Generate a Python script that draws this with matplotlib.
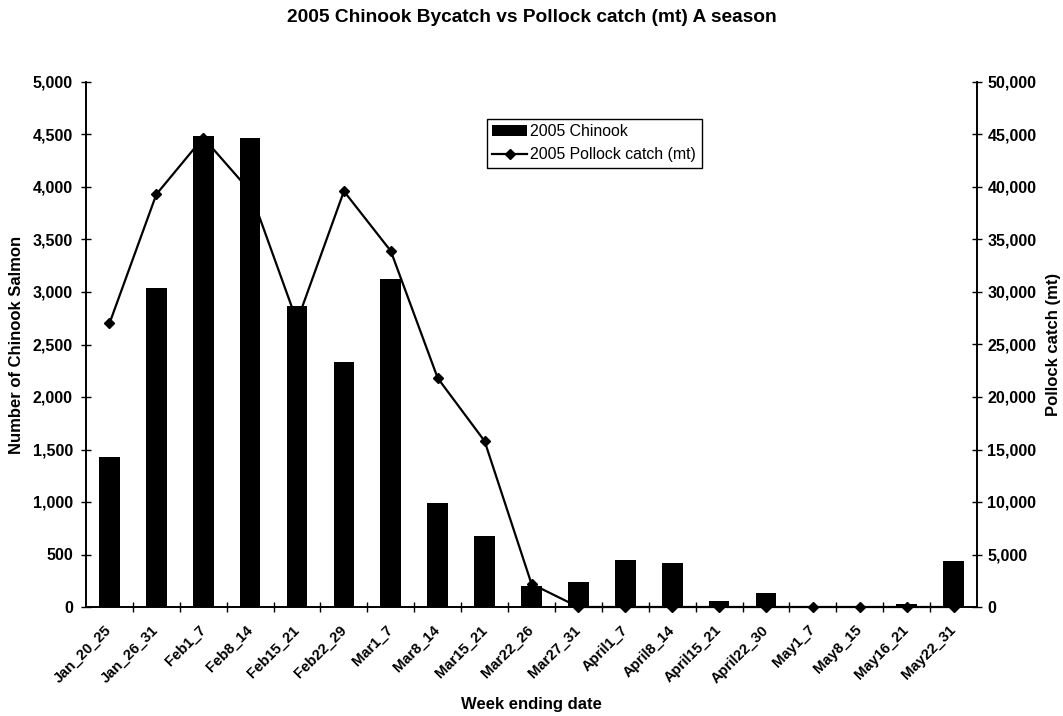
import numpy as np
import matplotlib
matplotlib.use('Agg')
import matplotlib.pyplot as plt
from matplotlib.ticker import FuncFormatter, FixedLocator

plt.rcParams['font.family'] = ['Liberation Sans', 'DejaVu Sans']

weeks = ['Jan_20_25', 'Jan_26_31', 'Feb1_7', 'Feb8_14', 'Feb15_21', 'Feb22_29',
         'Mar1_7', 'Mar8_14', 'Mar15_21', 'Mar22_26', 'Mar27_31', 'April1_7',
         'April8_14', 'April15_21', 'April22_30', 'May1_7', 'May8_15',
         'May16_21', 'May22_31']

# chinook bycatch (number of fish)
chinook = [1430, 3040, 4490, 4470, 2870, 2330, 3120, 990, 680, 200, 235, 450,
           415, 55, 130, 0, 5, 25, 435]

# pollock catch (mt)
pollock = [27000, 39300, 44700, 39600, 27200, 39600, 33900, 21800, 15800, 2200,
           0, 0, 0, 0, 0, 0, 0, 0, 0]

x = np.arange(len(weeks))
comma = FuncFormatter(lambda v, p: f'{int(v):,}')

fig = plt.figure(figsize=(10.63, 7.16), dpi=100)
ax = fig.add_axes([86/1063, 1-607/716, 891/1063, 525/716])
ax2 = ax.twinx()

bars = ax.bar(x, chinook, width=0.44, color='black', label='2005 Chinook', zorder=2)
line, = ax2.plot(x, pollock, color='black', lw=1.6, marker='D', markersize=5.5,
                 label='2005 Pollock catch (mt)', zorder=3, clip_on=False)

ax.set_xlim(-0.5, len(weeks) - 0.5)
ax.set_ylim(0, 5000)
ax2.set_ylim(0, 50000)
ax.set_yticks(np.arange(0, 5001, 500))
ax2.set_yticks(np.arange(0, 50001, 5000))
ax.yaxis.set_major_formatter(comma)
ax2.yaxis.set_major_formatter(comma)

ax.set_xticks(x)
ax.set_xticklabels(weeks, rotation=45, ha='right', va='center',
                   rotation_mode='anchor', fontsize=10.6, fontweight='bold')
ax.tick_params(axis='x', which='major', length=0, pad=15)
ax.xaxis.set_minor_locator(FixedLocator(np.arange(0.5, len(weeks) - 1, 1)))
ax.tick_params(axis='x', which='minor', direction='inout', length=7, width=1)

ax.tick_params(axis='y', direction='inout', length=7, width=1, pad=6, labelsize=11.5)
ax2.tick_params(axis='y', direction='inout', length=7, width=1, pad=4, labelsize=11.5)
for lab in ax.get_yticklabels() + ax2.get_yticklabels():
    lab.set_fontweight('bold')

for a in (ax, ax2):
    a.spines['top'].set_visible(False)
    for s in ('left', 'right', 'bottom'):
        a.spines[s].set_linewidth(1.2)

ax.set_ylabel('Number of Chinook Salmon', fontsize=12, fontweight='bold', labelpad=6)
ax2.set_ylabel('Pollock catch (mt)', fontsize=12, fontweight='bold',
               rotation=90, labelpad=7)
ax.set_xlabel('Week ending date', fontsize=12, fontweight='bold', labelpad=8)

fig.text(0.5, 1-17/716, '2005 Chinook Bycatch vs Pollock catch (mt) A season',
         ha='center', va='center', fontsize=13.8, fontweight='bold')

leg = ax2.legend([bars, line], ['2005 Chinook', '2005 Pollock catch (mt)'],
                 loc='upper left', bbox_to_anchor=(0.45, 0.93), borderaxespad=0,
                 fontsize=11.4, handlelength=2.2, handleheight=0.7,
                 handletextpad=0.2, labelspacing=0.5, borderpad=0.35,
                 fancybox=False, edgecolor='black', framealpha=1)
leg.get_frame().set_linewidth(1.0)

fig.savefig('out.png', dpi=100)
